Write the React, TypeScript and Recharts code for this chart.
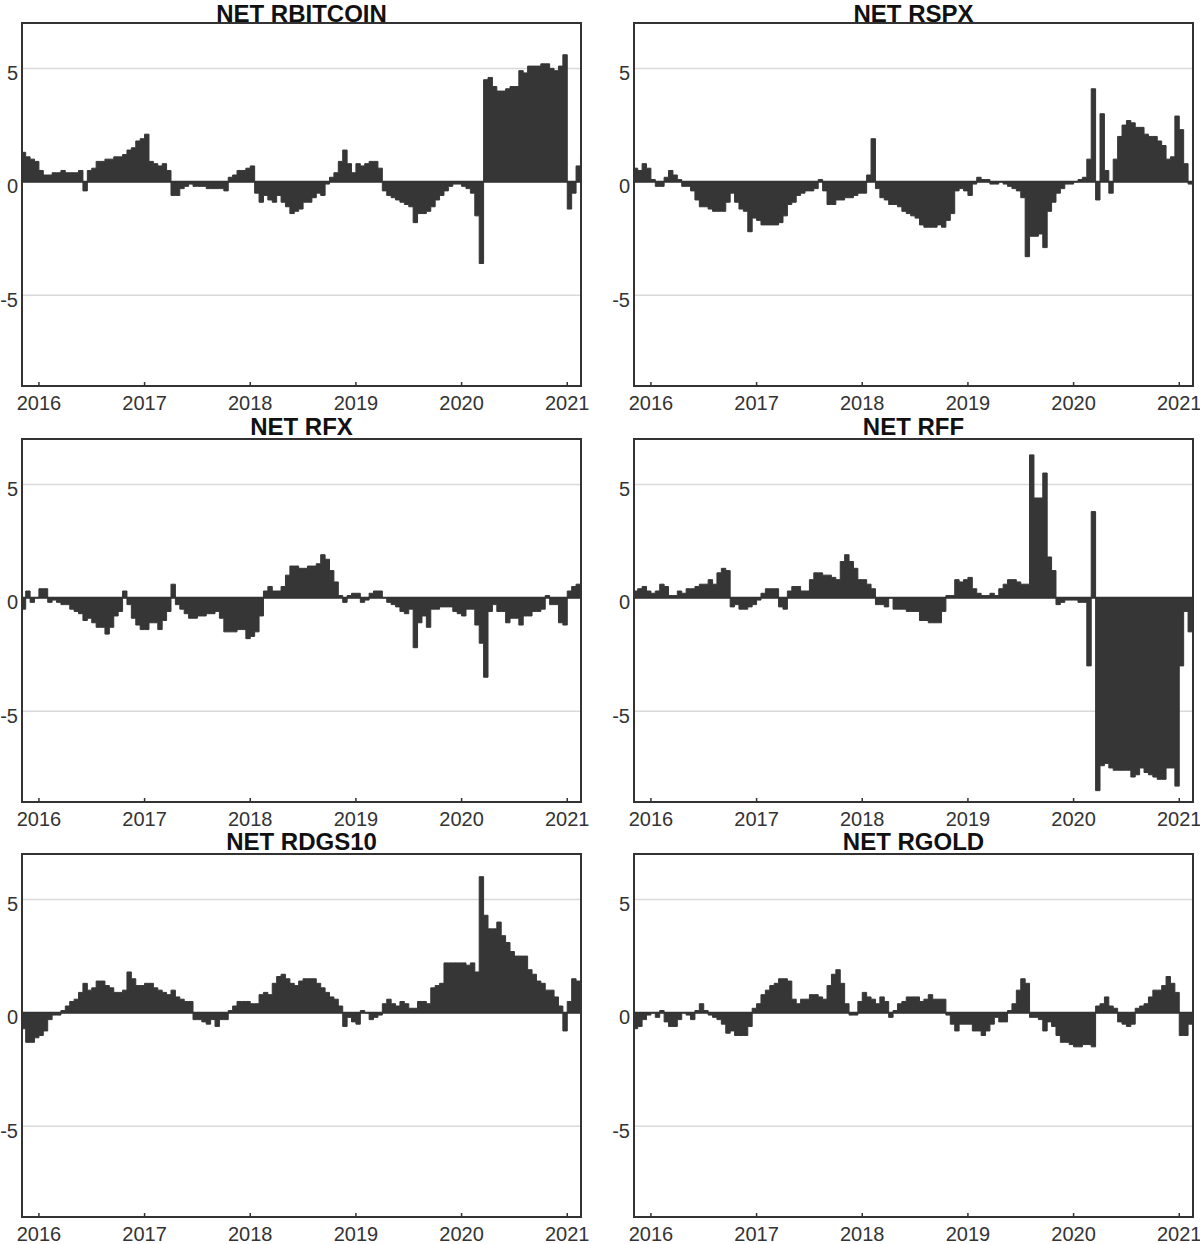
import React from "react";
import { AreaChart, Area, XAxis, YAxis, CartesianGrid, ReferenceLine } from "recharts";

// half-month observations, two values per month (1st half, 2nd half)
const months = [
  "2015-11", "2015-12",
  "2016-01", "2016-02", "2016-03", "2016-04", "2016-05", "2016-06", "2016-07", "2016-08", "2016-09", "2016-10", "2016-11", "2016-12",
  "2017-01", "2017-02", "2017-03", "2017-04", "2017-05", "2017-06", "2017-07", "2017-08", "2017-09", "2017-10", "2017-11", "2017-12",
  "2018-01", "2018-02", "2018-03", "2018-04", "2018-05", "2018-06", "2018-07", "2018-08", "2018-09", "2018-10", "2018-11", "2018-12",
  "2019-01", "2019-02", "2019-03", "2019-04", "2019-05", "2019-06", "2019-07", "2019-08", "2019-09", "2019-10", "2019-11", "2019-12",
  "2020-01", "2020-02", "2020-03", "2020-04", "2020-05", "2020-06", "2020-07", "2020-08", "2020-09", "2020-10", "2020-11", "2020-12",
  "2021-01", "2021-02",
];

const years = [2016, 2017, 2018, 2019, 2020, 2021];
const yTicks = [-5, 0, 5];

const netBitcoin = [
  1.3, 1.1, 1.0, 0.9,
  0.5, 0.3, 0.3, 0.4, 0.4, 0.5, 0.4, 0.4, 0.4, 0.5, -0.4, 0.5, 0.6, 0.9, 0.9, 1.0, 1.0, 1.1, 1.1, 1.2, 1.4, 1.5, 1.8, 1.9,
  2.1, 0.9, 0.8, 0.7, 0.8, 0.5, -0.6, -0.6, -0.3, -0.2, -0.1, -0.2, -0.2, -0.2, -0.3, -0.3, -0.3, -0.3, -0.4, 0.2, 0.3, 0.5, 0.5, 0.6,
  0.7, -0.5, -0.9, -0.6, -0.8, -0.9, -0.6, -0.9, -1.1, -1.4, -1.3, -1.2, -0.9, -0.9, -0.7, -0.5, -0.6, -0.1, 0.2, 0.4, 0.9, 1.4, 0.8, 0.4,
  0.8, 0.7, 0.8, 0.9, 0.9, 0.6, -0.4, -0.6, -0.7, -0.8, -0.9, -1.0, -1.1, -1.8, -1.4, -1.4, -1.3, -1.1, -0.8, -0.6, -0.4, -0.2, -0.1, -0.1,
  -0.2, -0.3, -0.5, -1.5, -3.6, 4.5, 4.6, 4.2, 4.0, 4.0, 4.1, 4.2, 4.2, 4.9, 4.8, 5.1, 5.1, 5.1, 5.2, 5.2, 5.0, 4.9, 5.1, 5.6,
  -1.2, -0.5, 0.7, 1.2,
];

const netSpx = [
  0.6, 0.5, 0.8, 0.6,
  0.1, -0.2, -0.2, 0.2, 0.5, 0.3, 0.1, -0.2, -0.2, -0.4, -0.8, -1.1, -1.1, -1.2, -1.3, -1.3, -1.3, -0.9, -0.5, -0.9, -1.2, -1.3, -2.2, -1.6,
  -1.7, -1.9, -1.9, -1.9, -1.9, -1.8, -1.5, -1.0, -0.9, -0.6, -0.5, -0.4, -0.4, -0.3, 0.1, -0.4, -1.0, -1.0, -0.8, -0.8, -0.7, -0.7, -0.6, -0.5,
  -0.5, 0.3, 1.9, -0.3, -0.7, -0.8, -1.0, -1.0, -1.1, -1.3, -1.4, -1.5, -1.6, -1.9, -2.0, -2.0, -2.0, -1.9, -2.0, -1.7, -1.4, -0.4, -0.3, -0.4,
  -0.6, -0.1, 0.2, 0.1, 0.1, -0.1, -0.1, 0.0, -0.1, -0.2, -0.3, -0.4, -0.7, -3.3, -2.4, -2.4, -2.3, -2.9, -1.3, -0.9, -0.5, -0.3, -0.1, -0.1,
  0.0, 0.1, 0.2, 1.0, 4.1, -0.8, 3.0, 0.5, -0.5, 1.0, 2.0, 2.5, 2.7, 2.6, 2.4, 2.4, 2.1, 2.0, 2.0, 1.8, 1.6, 1.0, 1.1, 2.9,
  2.3, 0.8, -0.1, -0.5,
];

const netFx = [
  -0.5, 0.3, -0.2, 0.0,
  0.4, 0.4, -0.2, -0.1, -0.2, -0.3, -0.3, -0.5, -0.6, -0.7, -1.0, -0.9, -1.1, -1.3, -1.3, -1.6, -1.3, -0.8, -0.6, 0.3, -0.3, -0.9, -1.2, -1.4,
  -1.4, -1.1, -1.1, -1.4, -1.0, -0.6, 0.6, -0.3, -0.5, -0.7, -0.9, -0.9, -0.8, -0.8, -0.7, -0.7, -0.6, -0.9, -1.5, -1.5, -1.5, -1.4, -1.4, -1.8,
  -1.7, -1.5, -0.8, 0.3, 0.5, 0.3, 0.3, 0.5, 1.0, 1.4, 1.4, 1.3, 1.3, 1.4, 1.4, 1.5, 1.9, 1.7, 1.2, 0.7, 0.1, -0.2, 0.1, 0.2,
  0.2, -0.2, -0.1, 0.2, 0.3, 0.3, 0.0, -0.2, -0.3, -0.4, -0.6, -0.7, -0.5, -2.2, -1.1, -0.8, -1.3, -0.5, -0.5, -0.4, -0.4, -0.4, -0.6, -0.7,
  -0.8, -0.5, -0.5, -1.2, -2.0, -3.5, -0.6, -0.3, -0.6, -0.6, -1.1, -0.9, -0.9, -1.2, -0.8, -0.8, -0.6, -0.6, -0.5, 0.1, -0.3, -0.3, -1.1, -1.2,
  0.3, 0.5, 0.6, 0.1,
];

const netFf = [
  0.3, 0.4, 0.5, 0.3,
  0.2, 0.3, 0.6, 0.5, 0.1, 0.1, 0.3, 0.2, 0.4, 0.4, 0.5, 0.6, 0.6, 0.8, 0.6, 1.1, 1.3, 1.2, -0.4, -0.3, -0.5, -0.5, -0.4, -0.3,
  -0.1, 0.2, 0.4, 0.4, 0.4, -0.4, -0.5, 0.3, 0.5, 0.5, 0.3, 0.3, 0.8, 1.1, 1.1, 1.0, 1.0, 0.9, 0.8, 1.6, 1.9, 1.6, 1.3, 0.8,
  0.8, 0.6, 0.4, -0.3, -0.3, -0.4, 0.0, -0.5, -0.5, -0.5, -0.6, -0.6, -0.6, -1.0, -1.0, -1.1, -1.1, -1.1, -0.6, 0.1, 0.1, 0.8, 0.7, 0.8,
  0.9, 0.4, 0.2, 0.1, 0.1, 0.2, 0.1, 0.4, 0.6, 0.8, 0.8, 0.7, 0.6, 0.6, 6.3, 4.4, 4.4, 5.5, 1.8, 1.2, -0.3, -0.2, -0.1, -0.1,
  -0.1, -0.2, -0.2, -3.0, 3.8, -8.5, -7.4, -7.3, -7.5, -7.6, -7.6, -7.6, -7.6, -7.9, -7.8, -7.5, -7.7, -7.8, -7.9, -8.0, -8.0, -7.5, -7.5, -8.3,
  -3.0, -0.6, -1.5, -1.5,
];

const netDgs10 = [
  -0.7, -1.3, -1.3, -1.1,
  -1.0, -0.8, -0.3, -0.1, -0.1, 0.1, 0.3, 0.5, 0.6, 0.9, 1.3, 1.0, 1.1, 1.4, 1.4, 1.2, 1.1, 0.9, 0.9, 1.0, 1.8, 1.5, 1.2, 1.2,
  1.3, 1.3, 1.1, 1.0, 0.9, 0.8, 1.0, 0.7, 0.6, 0.5, 0.5, -0.3, -0.3, -0.4, -0.5, -0.3, -0.6, -0.3, -0.3, 0.1, 0.3, 0.5, 0.5, 0.5,
  0.4, 0.4, 0.8, 0.9, 0.8, 1.3, 1.6, 1.7, 1.5, 1.3, 1.2, 1.4, 1.5, 1.5, 1.5, 1.3, 1.1, 0.9, 0.7, 0.6, 0.3, -0.6, -0.2, -0.4,
  -0.5, 0.1, 0.0, -0.3, -0.2, -0.1, 0.4, 0.6, 0.4, 0.3, 0.5, 0.4, 0.2, 0.2, 0.5, 0.5, 0.4, 1.1, 1.2, 1.3, 2.2, 2.2, 2.2, 2.2,
  2.2, 2.1, 2.2, 1.8, 6.0, 4.3, 3.7, 3.7, 4.0, 3.4, 3.1, 2.7, 2.5, 2.5, 2.5, 1.9, 1.7, 1.4, 1.3, 1.0, 1.0, 0.7, 0.3, -0.8,
  0.5, 1.5, 1.4, 0.7,
];

const netGold = [
  -0.7, -0.6, -0.3, -0.1,
  0.0, -0.2, 0.1, -0.4, -0.6, -0.6, -0.3, 0.0, -0.1, -0.3, 0.1, 0.4, 0.1, -0.1, -0.2, -0.3, -0.5, -0.9, -0.8, -1.0, -1.0, -1.0, -0.6, 0.2,
  0.4, 0.8, 1.0, 1.2, 1.3, 1.5, 1.5, 1.4, 0.6, 0.4, 0.6, 0.6, 0.8, 0.8, 0.7, 0.6, 1.2, 1.7, 1.9, 1.3, 0.4, -0.1, -0.1, 0.5,
  0.9, 0.7, 0.6, 0.4, 0.7, 0.5, -0.2, 0.1, 0.4, 0.5, 0.7, 0.7, 0.7, 0.5, 0.6, 0.8, 0.6, 0.6, 0.6, -0.1, -0.5, -0.8, -0.5, -0.5,
  -0.5, -0.8, -0.8, -1.0, -0.8, -0.5, -0.2, -0.4, -0.4, 0.1, 0.4, 1.0, 1.5, 1.3, -0.2, -0.2, -0.3, -0.8, -0.4, -0.6, -1.0, -1.3, -1.3, -1.4,
  -1.5, -1.5, -1.4, -1.4, -1.5, 0.3, 0.4, 0.7, 0.3, 0.2, -0.4, -0.5, -0.6, -0.5, 0.2, 0.3, 0.4, 0.7, 1.0, 1.0, 1.2, 1.6, 1.3, 0.9,
  -1.0, -1.0, -0.5, 0.0,
];

const panels = [
  { title: "NET RBITCOIN", key: "bitcoin", values: netBitcoin },
  { title: "NET RSPX", key: "spx", values: netSpx },
  { title: "NET RFX", key: "fx", values: netFx },
  { title: "NET RFF", key: "ff", values: netFf },
  { title: "NET RDGS10", key: "dgs10", values: netDgs10 },
  { title: "NET RGOLD", key: "gold", values: netGold },
];

// each half month starts at year + (month-1)/12 (+1/24 for the 2nd half)
const starts = months.flatMap((m) => {
  const [y, mo] = m.split("-").map(Number);
  const t = y + (mo - 1) / 12;
  return [t, t + 1 / 24];
});

const rows = starts.map((t, i) => {
  const row: Record<string, number> = { t };
  panels.forEach((p) => (row[p.key] = p.values[i]));
  return row;
});
// closing row so the last step has a width
const closing: Record<string, number> = { t: 2021 + 2 / 12 };
panels.forEach((p) => (closing[p.key] = p.values[p.values.length - 1]));
rows.push(closing);

const FONT = "'Liberation Sans', Arial, Helvetica, sans-serif";
const DARK = "#333333";
const X_DOMAIN: [number, number] = [2015.84, 2021.13];
const Y_DOMAIN: [number, number] = [-9, 7];
const PLOT_LEFT = 22;
const PLOT_W = 559;
const PLOT_H = 363;
const TOP = 23;
const CHART_W = 600;
const CHART_H = 420;

const renderXTick = (props: any) => {
  const { x, y, payload } = props;
  return (
    <g>
      <line x1={x} x2={x} y1={y - 4} y2={y} stroke={DARK} strokeWidth={1.5} />
      <text x={x} y={y + 24} textAnchor="middle" fill={DARK} fontSize={20} fontFamily={FONT}>
        {payload.value}
      </text>
    </g>
  );
};

const renderYTick = (props: any) => {
  const { x, y, payload } = props;
  return (
    <text x={x} y={y + 11.5} textAnchor="end" fill={DARK} fontSize={20} fontFamily={FONT}>
      {payload.value}
    </text>
  );
};

const Panel: React.FC<{ title: string; dataKey: string; left: number; top: number }> = ({ title, dataKey, left, top }) => {
  // title box must not start above the page
  const titleTop = Math.max(-3, -top);
  return (
    <div style={{ position: "absolute", left, top, width: CHART_W, height: CHART_H }}>
      <div
        style={{
          position: "absolute",
          left: PLOT_LEFT,
          width: PLOT_W,
          top: titleTop,
          textAlign: "center",
          fontFamily: FONT,
          fontWeight: "bold",
          fontSize: 24,
          lineHeight: "27px",
          color: "#111",
          whiteSpace: "nowrap",
        }}
      >
        {title}
      </div>
      <AreaChart
        width={CHART_W}
        height={CHART_H}
        data={rows}
        margin={{ top: TOP, right: CHART_W - PLOT_LEFT - PLOT_W, bottom: 0, left: 0 }}
      >
        <CartesianGrid vertical={false} stroke="#d9d9d9" strokeWidth={1.5} />
        <XAxis
          dataKey="t"
          type="number"
          domain={X_DOMAIN}
          ticks={years}
          interval={0}
          allowDataOverflow
          tickLine={false}
          tickSize={0}
          tickMargin={0}
          axisLine={false}
          height={CHART_H - TOP - PLOT_H}
          tick={renderXTick}
        />
        <YAxis
          type="number"
          domain={Y_DOMAIN}
          ticks={yTicks}
          interval={0}
          allowDataOverflow
          width={PLOT_LEFT}
          tickLine={false}
          tickSize={0}
          tickMargin={4}
          axisLine={false}
          tick={renderYTick}
        />
        <Area
          type="stepAfter"
          dataKey={dataKey}
          baseValue={0}
          fill="#363636"
          fillOpacity={1}
          stroke="#363636"
          strokeWidth={1}
          dot={false}
          activeDot={false}
          isAnimationActive={false}
        />
        <ReferenceLine y={0} stroke={DARK} strokeWidth={2} />
      </AreaChart>
      {/* plot frame */}
      <div
        style={{
          position: "absolute",
          left: PLOT_LEFT - 1,
          top: TOP - 1,
          width: PLOT_W + 2,
          height: PLOT_H + 2,
          border: `2px solid ${DARK}`,
          boxSizing: "border-box",
          pointerEvents: "none",
        }}
      />
    </div>
  );
};

export default function App() {
  const colLeft = [0, 612];
  const rowTop = [0, 415.7, 831.4];
  return (
    <div style={{ position: "relative", width: 1200, height: 1244, background: "#fff" }}>
      <style>{"body{margin:0;}"}</style>
      {panels.map((p, i) => (
        <Panel key={p.key} title={p.title} dataKey={p.key} left={colLeft[i % 2]} top={rowTop[Math.floor(i / 2)]} />
      ))}
    </div>
  );
}
